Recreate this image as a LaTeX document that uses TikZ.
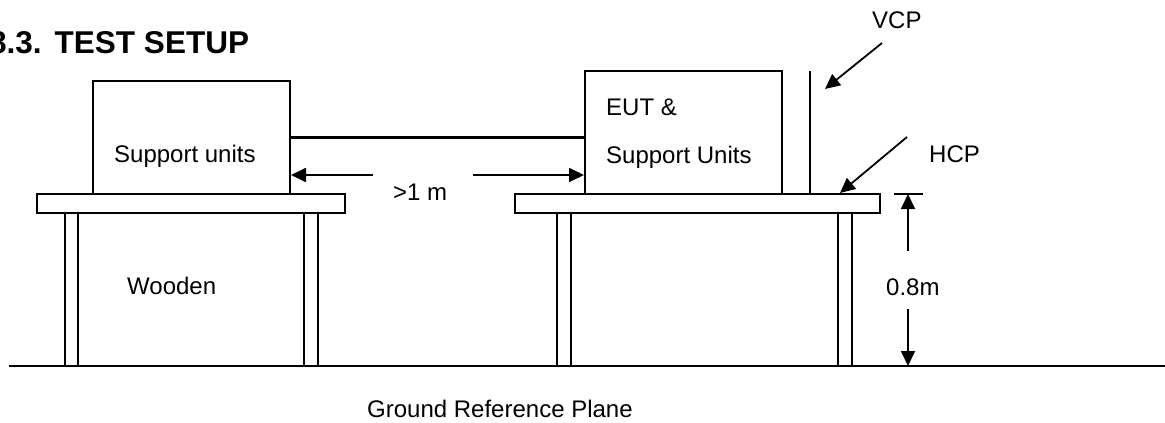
\documentclass[tikz,border=0pt]{standalone}
\usepackage{fontspec}
\setmainfont{Liberation Sans}
\usetikzlibrary{arrows.meta}

\begin{document}
\begin{tikzpicture}[x=1pt, y=-1pt,
unitbox/.style={rectangle, draw=black, line width=2pt, inner sep=0pt},
tabletop/.style={draw=black, line width=2pt, fill=white},
tableleg/.style={draw=black, line width=1.6pt},
txt/.style={anchor=base west, inner sep=0pt, font=\fontsize{24}{28}\selectfont},
pointer/.style={-{Triangle[length=15pt, width=14pt]}, line width=1.8pt},
heavy/.style={line width=2.6pt},
]
\useasboundingbox (0,0) rectangle (1165,423);
\node[anchor=base west, inner sep=0pt, font=\fontsize{31.5}{36}\selectfont\bfseries] (title) at (-11,53) {8.3.\hspace{13pt}TEST SETUP};

% ground
\draw[heavy] (9,366) -- (1165,366);

% left table
\draw[tableleg] (65,213) rectangle (78,366);
\draw[tableleg] (304,213) rectangle (318,366);
\draw[tabletop] (37,194) rectangle (345,213);
% right table
\draw[tableleg] (557,213) rectangle (571,366);
\draw[tableleg] (838,213) rectangle (852,366);
\draw[tabletop] (515,194) rectangle (880,213);

% units on the tables
\node[unitbox, minimum width=197pt, minimum height=113pt] (supp) at (191.5,137.5) {};
\node[unitbox, minimum width=197pt, minimum height=123pt] (eut) at (683.5,132.5) {};
\node[txt] (supptxt) at (114,162) {Support units};
\node[txt] (euttxt) at (606,115) {EUT \&};
\node[txt] (euttxt2) at (606,163) {Support Units};
\node[txt] (wood) at (127,294) {Wooden};
\node[txt] (ground) at (367,417) {Ground Reference Plane};

% cable
\draw[heavy] (supp.east) -- (supp.east -| eut.west);

% separation
\node[txt] (sep) at (393,200) {>1 m};
\coordinate (gapL) at (373,175);
\coordinate (gapR) at (473,175);
\draw[pointer] (gapL) -- (gapL -| supp.east);
\draw[pointer] (gapR) -- (gapR -| eut.west);

% coupling planes
\draw[heavy] (810,71) -- (810,194);
\node[txt] (vcp) at (872,28) {VCP};
\node[txt] (hcp) at (929,162) {HCP};
\coordinate (vcpfrom) at (882,43);
\coordinate (vcpto) at (825,89);
\coordinate (hcpfrom) at (907,137);
\coordinate (hcpto) at (840,193);
\draw[pointer] (vcpfrom) -- (vcpto);
\draw[pointer] (hcpfrom) -- (hcpto);

% height
\draw[line width=1.8pt] (894,194) -- (923,194);
\node[txt] (height) at (886,295) {0.8m};
\coordinate (htop) at (908,194);
\coordinate (hbot) at (908,366);
\draw[pointer] (908,251) -- (htop);
\draw[pointer] (908,309) -- (hbot);
\end{tikzpicture}
\end{document}
